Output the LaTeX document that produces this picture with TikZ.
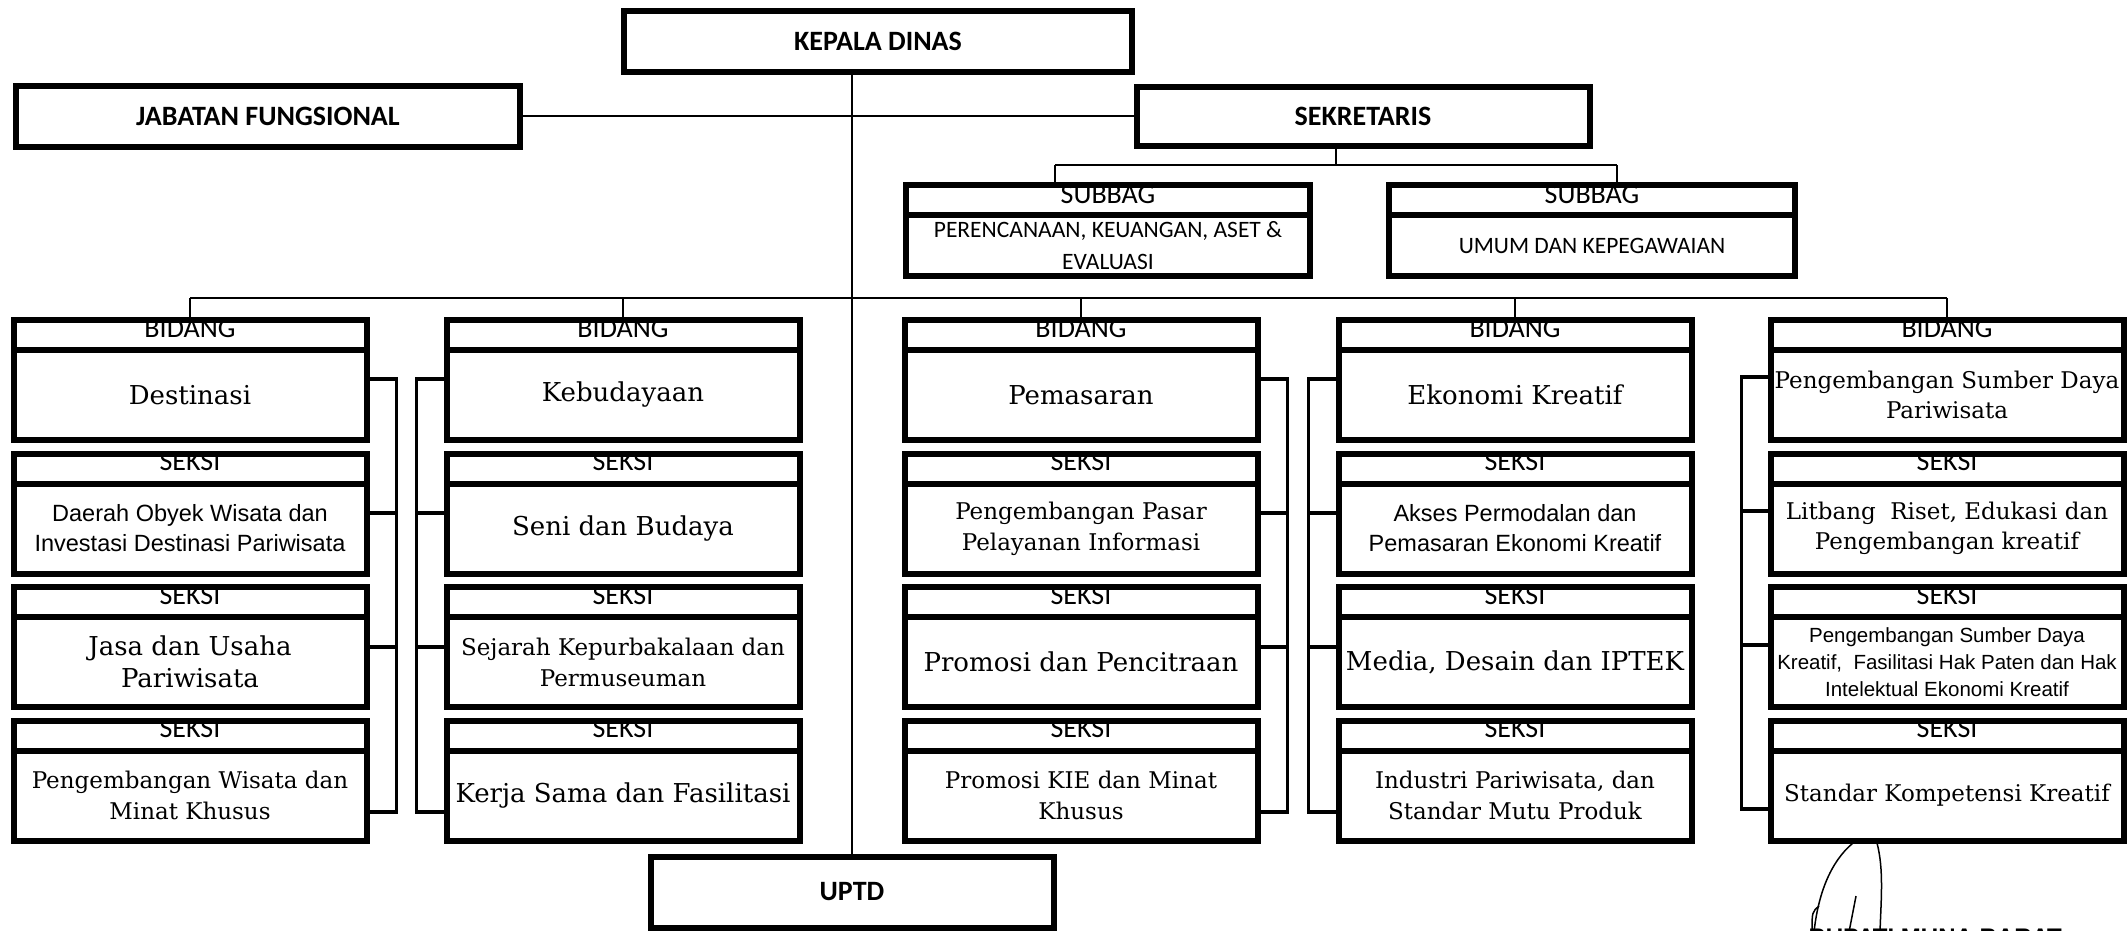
\documentclass[tikz,border=0pt]{standalone}
\usepackage{fontspec}
\usepackage{tikz}
\setmainfont{DejaVu Serif}
\newfontfamily\hdfont{Carlito}
\newfontfamily\arialfont{Liberation Sans}
\tikzstyle{box}=[draw,line width=6pt,inner sep=0pt,outer sep=0pt,align=center]
\tikzstyle{top}=[box,minimum height=61pt,font=\hdfont\bfseries\fontsize{28}{30}\selectfont]
% header strip: its label sits under the thick top border
\tikzstyle{cut}=[append after command={(\tikzlastnode.north west) edge[draw,line width=6pt,line cap=rect] (\tikzlastnode.north east)}]
\tikzstyle{hd}=[box,cut,minimum width=353pt,minimum height=30pt,text height=4pt,text depth=0pt,font=\hdfont\fontsize{28}{28}\selectfont]
\tikzstyle{bd}=[box,minimum width=353pt,minimum height=90pt,font=\fontsize{26}{32}\selectfont]
\tikzstyle{bds}=[bd,font=\fontsize{23}{31}\selectfont]
\tikzstyle{bda}=[bd,font=\arialfont\fontsize{23.5}{30}\selectfont]
\tikzstyle{bdb}=[bd,font=\arialfont\fontsize{20.5}{27}\selectfont]
\tikzstyle{sbh}=[box,cut,minimum height=30pt,text height=6pt,text depth=0pt,font=\hdfont\fontsize{28}{28}\selectfont]
\tikzstyle{sbd}=[box,minimum height=61pt,font=\hdfont\fontsize{23.5}{32}\selectfont]
\tikzstyle{ln}=[line width=2.2pt]
\tikzstyle{br}=[line width=3.5pt]
\tikzstyle{sig}=[line width=1.5pt]

\begin{document}
\begin{tikzpicture}[x=1pt,y=-1pt]
\useasboundingbox (0,0) rectangle (2127,930);
\clip (0,0) rectangle (2127,930);

% pimpinan
\node[top,minimum width=508pt] (kd) at (878,41.5) {KEPALA DINAS};
\node[top,minimum width=504pt] (jf) at (268,116) {JABATAN FUNGSIONAL};
\node[top,minimum width=453pt,minimum height=59pt] (sek) at (1363,116) {SEKRETARIS};

% subbag
\node[sbh,minimum width=404pt] (sb1h) at (1108,200) {SUBBAG};
\node[sbd,minimum width=404pt] (sb1) at (1108,245.5) {PERENCANAAN, KEUANGAN, ASET \&\\EVALUASI};
\node[sbh,minimum width=406pt] (sb2h) at (1592,200) {SUBBAG};
\node[sbd,minimum width=406pt] (sb2) at (1592,245.5) {UMUM DAN KEPEGAWAIAN};

% bidang destinasi
\node[hd] (h10) at (190,335) {BIDANG};
\node[bd] (b10) at (190,395) {Destinasi};
\node[hd] (h11) at (190,468.5) {SEKSI};
\node[bda] (b11) at (190,528.5) {Daerah Obyek Wisata dan\\Investasi Destinasi Pariwisata};
\node[hd] (h12) at (190,602) {SEKSI};
\node[bd] (b12) at (190,662) {Jasa dan Usaha\\Pariwisata};
\node[hd] (h13) at (190,735.5) {SEKSI};
\node[bds] (b13) at (190,795.5) {Pengembangan Wisata dan\\Minat Khusus};

% bidang kebudayaan
\node[hd] (h20) at (623,335) {BIDANG};
\node[bd] (b20) at (623,395) {Kebudayaan};
\node[hd] (h21) at (623,468.5) {SEKSI};
\node[bd] (b21) at (623,528.5) {Seni dan Budaya};
\node[hd] (h22) at (623,602) {SEKSI};
\node[bds] (b22) at (623,662) {Sejarah Kepurbakalaan dan\\Permuseuman};
\node[hd] (h23) at (623,735.5) {SEKSI};
\node[bd] (b23) at (623,795.5) {Kerja Sama dan Fasilitasi};

% bidang pemasaran
\node[hd] (h30) at (1081,335) {BIDANG};
\node[bd] (b30) at (1081,395) {Pemasaran};
\node[hd] (h31) at (1081,468.5) {SEKSI};
\node[bds] (b31) at (1081,528.5) {Pengembangan Pasar\\Pelayanan Informasi};
\node[hd] (h32) at (1081,602) {SEKSI};
\node[bd] (b32) at (1081,662) {Promosi dan Pencitraan};
\node[hd] (h33) at (1081,735.5) {SEKSI};
\node[bds] (b33) at (1081,795.5) {Promosi KIE dan Minat\\Khusus};

% bidang ekonomi kreatif
\node[hd] (h40) at (1515,335) {BIDANG};
\node[bd] (b40) at (1515,395) {Ekonomi Kreatif};
\node[hd] (h41) at (1515,468.5) {SEKSI};
\node[bda] (b41) at (1515,528.5) {Akses Permodalan dan\\Pemasaran Ekonomi Kreatif};
\node[hd] (h42) at (1515,602) {SEKSI};
\node[bd] (b42) at (1515,662) {Media, Desain dan IPTEK};
\node[hd] (h43) at (1515,735.5) {SEKSI};
\node[bds] (b43) at (1515,795.5) {Industri Pariwisata, dan\\Standar Mutu Produk};

% bidang sumber daya
\node[hd] (h50) at (1947,335) {BIDANG};
\node[bds,font=\fontsize{23}{30}\selectfont] (b50) at (1947,395) {Pengembangan Sumber Daya\\Pariwisata};
\node[hd] (h51) at (1947,468.5) {SEKSI};
\node[bds,font=\fontsize{23}{30}\selectfont] (b51) at (1947,528.5) {Litbang\ \ Riset, Edukasi dan\\Pengembangan kreatif};
\node[hd] (h52) at (1947,602) {SEKSI};
\node[bdb] (b52) at (1947,662) {Pengembangan Sumber Daya\\Kreatif,\ \ Fasilitasi Hak Paten dan Hak\\Intelektual Ekonomi Kreatif};
\node[hd] (h53) at (1947,735.5) {SEKSI};
\node[bds] (b53) at (1947,795.5) {Standar Kompetensi Kreatif};

\node[top,minimum width=403pt,minimum height=71pt] (uptd) at (852,892) {UPTD};

\coordinate (sj) at (1336,165);
\coordinate (s1) at (1055,165);
\coordinate (s2) at (1617,165);
\coordinate (bus) at (852,298);

\draw[ln]
    (kd.south -| uptd.north) -- (uptd.north)
    (jf.east) -- (sek.west)
    (sek.south -| sj) -- (sj)
    (s1) -- (s2)
    (s1) -- (s1 |- sb1h.north)
    (s2) -- (s2 |- sb2h.north)

    (h10.north |- bus) -- (h50.north |- bus)
    (h10.north |- bus) -- (h10.north)
    (h20.north |- bus) -- (h20.north)
    (h30.north |- bus) -- (h30.north)
    (h40.north |- bus) -- (h40.north)
    (h50.north |- bus) -- (h50.north)
    ;

\draw[br]
    (b10.east |- 0,379) -- ++(30,0) |- (b13.east |- 0,812)
    (b11.east |- 0,513) -- ++(30,0)
    (b12.east |- 0,647) -- ++(30,0)

    (b20.west |- 0,379) -- ++(-30,0) |- (b23.west |- 0,812)
    (b21.west |- 0,513) -- ++(-30,0)
    (b22.west |- 0,647) -- ++(-30,0)

    (b30.east |- 0,379) -- ++(30,0) |- (b33.east |- 0,812)
    (b31.east |- 0,513) -- ++(30,0)
    (b32.east |- 0,647) -- ++(30,0)

    (b40.west |- 0,379) -- ++(-30,0) |- (b43.west |- 0,812)
    (b41.west |- 0,513) -- ++(-30,0)
    (b42.west |- 0,647) -- ++(-30,0)

    (b50.west |- 0,377) -- ++(-29,0) |- (b53.west |- 0,809)
    (b51.west |- 0,511) -- ++(-29,0)
    (b52.west |- 0,645) -- ++(-29,0)
    ;

% tanda tangan
\node[anchor=base east,inner sep=0pt,font=\arialfont\bfseries\fontsize{24}{24}\selectfont] (bup) at (2062,945) {BUPATI MUNA BARAT};
\draw[sig] (1853,843) .. controls (1830,862) and (1818,895) .. (1814,932);
\draw[sig] (1877,843) .. controls (1884,870) and (1881,900) .. (1880,932);
\draw[sig] (1856,896) -- (1849,932);
\draw[sig] (1819,906) .. controls (1812,912) .. (1812,932);

\end{tikzpicture}
\end{document}
